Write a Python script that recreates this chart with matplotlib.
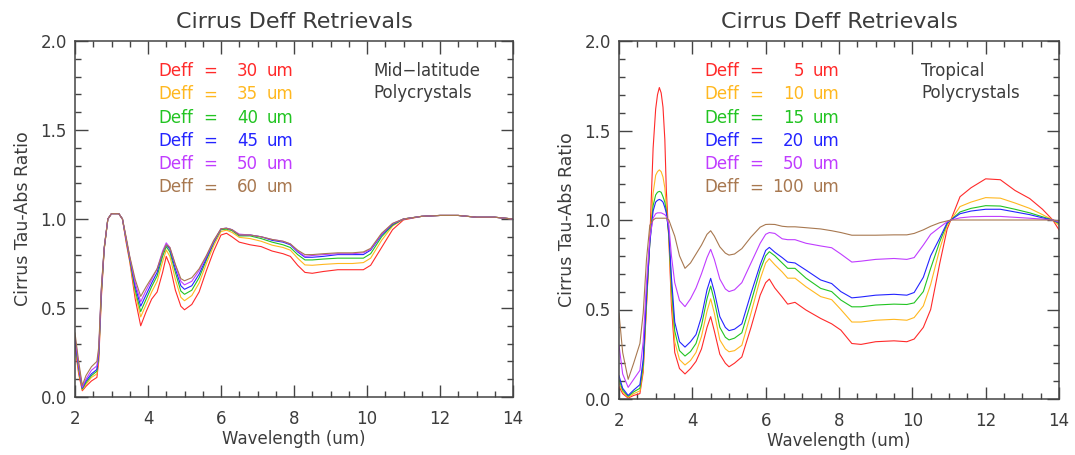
import matplotlib
matplotlib.use("Agg")
import matplotlib.pyplot as plt
from matplotlib.ticker import MultipleLocator

# ---- data ----
wl_mid = [2.0, 2.1, 2.2, 2.3, 2.45, 2.6, 2.65, 2.72, 2.8, 2.9,
          3.0, 3.2, 3.3, 3.4, 3.5, 3.65, 3.8, 3.95, 4.1, 4.25,
          4.4, 4.5, 4.6, 4.75, 4.9, 5.0, 5.2, 5.4, 5.6, 5.8,
          6.0, 6.15, 6.3, 6.5, 6.8, 7.1, 7.4, 7.7, 7.9, 8.1,
          8.3, 8.5, 8.8, 9.2, 9.6, 9.9, 10.1, 10.4, 10.7, 11.0,
          11.5, 12.0, 12.5, 13.0, 13.5, 14.0]
tail_mid = [1.015, 1.02, 1.02, 1.01, 1.01, 1.0]

mid_30 = [.28, .13, .035, .06, .09, .11, .20, .55, .83, 1.0,
          1.03, 1.03, 1.0, .87, .76, .55, .40, .48, .55, .59,
          .70, .79, .74, .60, .51, .49, .52, .59, .71, .82,
          .91, .92, .90, .87, .855, .845, .82, .805, .79, .74,
          .70, .695, .705, .715, .715, .715, .74, .84, .94, .995] + tail_mid
mid_35 = [.30, .15, .04, .07, .11, .13, .22, .57, .83, 1.0,
          1.03, 1.03, 1.0, .88, .77, .58, .45, .52, .59, .65,
          .76, .826, .79, .66, .56, .541, .57, .64, .75, .85,
          .93, .937, .925, .897, .89, .875, .853, .84, .825, .78,
          .742, .74, .745, .75, .75, .755, .78, .88, .96, 1.0] + tail_mid
mid_40 = [.31, .16, .045, .08, .12, .145, .235, .58, .835, 1.0,
          1.03, 1.03, 1.0, .885, .775, .60, .48, .55, .62, .68,
          .79, .845, .815, .70, .595, .577, .60, .67, .77, .865,
          .94, .943, .935, .905, .905, .89, .87, .855, .84, .80,
          .77, .77, .775, .78, .78, .78, .805, .90, .965, 1.0] + tail_mid
mid_45 = [.32, .17, .05, .09, .13, .155, .245, .59, .835, 1.0,
          1.03, 1.03, 1.0, .89, .78, .62, .51, .575, .64, .70,
          .81, .855, .83, .72, .625, .605, .625, .69, .78, .87,
          .945, .948, .94, .91, .91, .90, .88, .87, .855, .815,
          .785, .785, .79, .80, .80, .80, .825, .91, .97, 1.0] + tail_mid
mid_50 = [.34, .18, .055, .10, .15, .175, .26, .60, .84, 1.0,
          1.03, 1.03, 1.0, .89, .785, .64, .535, .60, .66, .72,
          .82, .866, .84, .74, .65, .63, .65, .71, .79, .875,
          .945, .948, .94, .915, .91, .90, .885, .875, .86, .82,
          .79, .795, .80, .805, .805, .81, .83, .915, .975, 1.0] + tail_mid
mid_60 = [.36, .20, .065, .12, .17, .20, .28, .61, .84, 1.0,
          1.03, 1.03, 1.0, .90, .79, .66, .565, .62, .67, .72,
          .81, .855, .84, .745, .665, .653, .67, .72, .795, .88,
          .945, .948, .94, .91, .91, .90, .885, .875, .86, .825,
          .80, .80, .805, .81, .81, .815, .835, .92, .975, 1.0] + tail_mid

wl_trop = [2.0, 2.1, 2.25, 2.4, 2.57, 2.66, 2.75, 2.84, 2.93, 3.0,
           3.05, 3.1, 3.15, 3.2, 3.25, 3.29, 3.36, 3.43, 3.52, 3.65,
           3.8, 3.95, 4.1, 4.25, 4.4, 4.5, 4.6, 4.75, 4.9, 5.0,
           5.15, 5.35, 5.6, 5.85, 6.0, 6.1, 6.25, 6.45, 6.6, 6.8,
           7.1, 7.5, 7.8, 8.05, 8.35, 8.6, 9.0, 9.5, 9.85, 10.05,
           10.3, 10.5, 10.75, 10.95, 11.05, 11.3, 11.6, 12.0, 12.4, 12.8,
           13.2, 13.55, 13.83, 14.0]

trop_5 = [.07, .03, .005, .02, .03, .15, .52, .89, 1.40, 1.62,
          1.70, 1.74, 1.71, 1.63, 1.45, 1.17, .89, .52, .26, .17,
          .14, .17, .21, .28, .40, .46, .38, .25, .20, .18,
          .20, .235, .40, .58, .65, .67, .62, .57, .53, .54,
          .497, .45, .42, .385, .31, .305, .32, .325, .32, .335,
          .40, .50, .76, .95, 1.0, 1.13, 1.18, 1.23, 1.225, 1.165,
          1.12, 1.06, 1.0, .945]
trop_10 = [.09, .04, .01, .03, .045, .17, .53, .88, 1.15, 1.25,
           1.27, 1.28, 1.27, 1.24, 1.18, 1.08, .90, .58, .32, .22,
           .19, .215, .26, .35, .49, .56, .48, .33, .28, .264,
           .27, .30, .48, .67, .76, .784, .75, .71, .675, .675,
           .627, .572, .555, .50, .43, .43, .44, .445, .44, .455,
           .52, .64, .84, .97, 1.0, 1.075, 1.10, 1.125, 1.122, 1.095,
           1.065, 1.03, 1.0, .97]
trop_15 = [.11, .05, .015, .04, .06, .19, .55, .87, 1.08, 1.14,
           1.155, 1.16, 1.155, 1.13, 1.10, 1.05, .92, .63, .38, .27,
           .24, .265, .31, .41, .56, .631, .55, .40, .345, .33,
           .34, .37, .54, .72, .80, .823, .80, .76, .73, .73,
           .675, .618, .60, .553, .515, .515, .525, .53, .528, .537,
           .60, .73, .88, .98, 1.0, 1.045, 1.065, 1.08, 1.078, 1.06,
           1.04, 1.018, 1.0, .98]
trop_20 = [.13, .06, .02, .05, .08, .22, .58, .87, 1.05, 1.10,
           1.11, 1.115, 1.11, 1.10, 1.07, 1.04, .93, .68, .43, .32,
           .29, .32, .36, .46, .61, .674, .60, .46, .40, .382,
           .39, .42, .59, .75, .83, .847, .82, .79, .765, .76,
           .72, .665, .645, .60, .565, .57, .58, .585, .58, .595,
           .68, .80, .90, .985, 1.0, 1.035, 1.05, 1.06, 1.06, 1.045,
           1.03, 1.012, 1.0, .985]
trop_50 = [.30, .14, .065, .11, .16, .32, .65, .90, 1.01, 1.035,
           1.04, 1.04, 1.04, 1.035, 1.03, 1.02, .97, .80, .65, .55,
           .516, .56, .62, .70, .79, .836, .78, .67, .615, .60,
           .61, .65, .76, .87, .92, .93, .925, .895, .89, .89,
           .87, .855, .845, .81, .765, .77, .78, .785, .78, .79,
           .86, .92, .96, .99, 1.0, 1.012, 1.018, 1.02, 1.02, 1.015,
           1.01, 1.005, 1.0, .99]
trop_100 = [.48, .26, .11, .20, .31, .48, .78, .97, 1.0, 1.01,
            1.01, 1.01, 1.01, 1.01, 1.01, 1.01, 1.0, .96, .91, .80,
            .73, .76, .81, .86, .92, .94, .91, .85, .815, .804,
            .81, .84, .905, .96, .975, .976, .975, .965, .962, .962,
            .957, .95, .94, .93, .915, .915, .915, .917, .917, .925,
            .945, .965, .985, .995, 1.0, 1.0, 1.0, 1.0, 1.0, 1.0,
            1.0, 1.0, 1.0, .995]

deff_mid = [30, 35, 40, 45, 50, 60]
deff_trop = [5, 10, 15, 20, 50, 100]
colors = ['#ff2a2a', '#ffb820', '#22c422', '#2424ff', '#c03cff', '#a87850']

W, H = 1075, 455
txt = '#3c3c3c'
plt.rcParams['font.family'] = ['DejaVu Sans']

fig = plt.figure(figsize=(W / 100, H / 100), dpi=100)


def fig_text(x, y, s, **kw):
    # x, y in pixels from the top-left of the figure
    fig.text(x / W, 1 - y / H, s, **kw)


def setup(ax):
    ax.set_xlim(2, 14)
    ax.set_ylim(0, 2)
    ax.xaxis.set_major_locator(MultipleLocator(2))
    ax.xaxis.set_minor_locator(MultipleLocator(0.5))
    ax.yaxis.set_major_locator(MultipleLocator(0.5))
    ax.yaxis.set_minor_locator(MultipleLocator(0.1))
    ax.yaxis.set_major_formatter(plt.FormatStrFormatter('%.1f'))
    ax.tick_params(which='both', direction='in', top=True, right=True,
                   color='#444444', labelcolor=txt, labelsize=12)
    ax.tick_params(which='major', length=9, width=1)
    ax.tick_params(which='minor', length=4.5, width=1)
    ax.tick_params(axis='x', pad=9)
    ax.tick_params(axis='y', pad=6)
    for sp in ax.spines.values():
        sp.set_color('#444444')
        sp.set_linewidth(1.1)
    ax.set_title('Cirrus Deff Retrievals', fontsize=16, color=txt, pad=9)
    ax.set_xlabel('Wavelength (um)', fontsize=12, color=txt, labelpad=2)
    ax.set_ylabel('Cirrus Tau-Abs Ratio', fontsize=12.5, color=txt, labelpad=6)


def legend(x0, deffs):
    for i, d in enumerate(deffs):
        y = 76 + i * 23.3
        c = colors[i]
        fig_text(x0, y, 'Deff', color=c, fontsize=12, va='baseline')
        fig_text(x0 + 45, y, '=', color=c, fontsize=12, va='baseline')
        fig_text(x0 + 100, y, str(d), color=c, fontsize=12, va='baseline', ha='right')
        fig_text(x0 + 109, y, 'um', color=c, fontsize=12, va='baseline')


ax1 = fig.add_axes([75 / W, 1 - 397 / H, 438 / W, 356 / H])
for ys, c in zip([mid_30, mid_35, mid_40, mid_45, mid_50, mid_60], colors):
    ax1.plot(wl_mid, ys, color=c, lw=0.8)
setup(ax1)
legend(158, deff_mid)
fig_text(373, 76, 'Mid\u2212latitude', color=txt, fontsize=12, va='baseline')
fig_text(373, 98, 'Polycrystals', color=txt, fontsize=12, va='baseline')

ax2 = fig.add_axes([619 / W, 1 - 399 / H, 440 / W, 358 / H])
for ys, c in zip([trop_5, trop_10, trop_15, trop_20, trop_50, trop_100], colors):
    ax2.plot(wl_trop, ys, color=c, lw=0.8)
setup(ax2)
legend(704, deff_trop)
fig_text(921, 76, 'Tropical', color=txt, fontsize=12, va='baseline')
fig_text(921, 98, 'Polycrystals', color=txt, fontsize=12, va='baseline')

fig.savefig('out.png', dpi=100, facecolor='white')
